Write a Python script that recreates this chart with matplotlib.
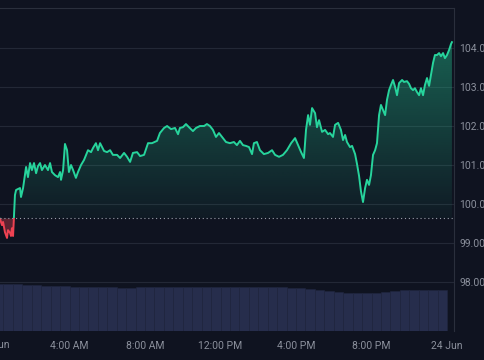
import numpy as np
from matplotlib import pyplot as plt
from matplotlib.patches import Rectangle
from matplotlib.path import Path

# hours since 23 Jun 00:00
hours = [0.32, 0.42, 0.48, 0.58, 0.69, 0.74, 0.85, 0.90, 0.95, 1.01, 1.11, 1.17, 1.38, 1.43, 1.54,
         1.70, 1.80, 1.91, 2.01, 2.12, 2.23, 2.33, 2.44, 2.54, 2.70, 2.86, 2.97, 3.07, 3.23, 3.39,
         3.50, 3.55, 3.66, 3.76, 3.87, 3.97, 4.08, 4.19, 4.34, 4.45, 4.61, 4.77, 4.98, 5.14, 5.25,
         5.40, 5.51, 5.62, 5.83, 5.99, 6.15, 6.30, 6.52, 6.68, 6.89, 7.05, 7.21, 7.36, 7.58, 7.74,
         7.95, 8.16, 8.37, 8.64, 8.79, 9.01, 9.17, 9.38, 9.59, 9.75, 9.85, 10.01, 10.17, 10.33, 10.54,
         10.70, 10.91, 11.13, 11.28, 11.44, 11.60, 11.76, 11.92, 12.08, 12.29, 12.50, 12.71, 12.87,
         13.03, 13.19, 13.35, 13.51, 13.67, 13.77, 13.93, 14.09, 14.30, 14.52, 14.73, 14.89, 15.10,
         15.31, 15.52, 15.74, 15.95, 16.11, 16.27, 16.42, 16.53, 16.64, 16.74, 16.85, 17.01, 17.11,
         17.22, 17.38, 17.54, 17.70, 17.80, 17.96, 18.07, 18.23, 18.38, 18.49, 18.60, 18.70, 18.86,
         18.97, 19.13, 19.23, 19.34, 19.44, 19.55, 19.66, 19.76, 19.87, 19.97, 20.08, 20.19, 20.29,
         20.40, 20.50, 20.61, 20.72, 20.82, 20.93, 21.03, 21.14, 21.25, 21.35, 21.46, 21.62, 21.72,
         21.88, 21.99, 22.09, 22.20, 22.30, 22.41, 22.52, 22.62, 22.73, 22.83, 22.94, 23.05, 23.15,
         23.26, 23.36, 23.47, 23.58, 23.68, 23.79, 23.89, 24.00, 24.11, 24.21, 24.26]
prices = [99.62, 99.46, 99.54, 99.28, 99.13, 99.33, 99.26, 99.18, 99.38, 99.18, 100.23, 100.36, 100.41, 100.18, 100.41,
          100.95, 100.69, 101.05, 100.87, 101.05, 100.79, 100.97, 101.05, 100.87, 101.00, 100.87, 101.05, 100.82, 100.74, 100.69,
          100.82, 100.62, 100.87, 101.54, 101.38, 100.82, 101.00, 100.87, 100.67, 100.82, 101.00, 101.13, 101.38, 101.33, 101.44,
          101.56, 101.38, 101.56, 101.36, 101.33, 101.38, 101.26, 101.26, 101.18, 101.31, 101.21, 101.08, 101.31, 101.33, 101.23,
          101.26, 101.56, 101.56, 101.62, 101.82, 101.95, 102.00, 101.92, 101.95, 101.79, 101.95, 101.97, 102.05, 101.97, 101.87,
          101.95, 102.00, 102.00, 102.05, 102.00, 101.90, 101.72, 101.82, 101.72, 101.59, 101.56, 101.59, 101.51,
          101.62, 101.51, 101.49, 101.46, 101.28, 101.56, 101.59, 101.38, 101.28, 101.31, 101.38, 101.26, 101.21,
          101.26, 101.38, 101.56, 101.69, 101.51, 101.33, 101.18, 101.90, 102.28, 102.03, 102.46, 102.33, 101.97,
          102.15, 101.85, 101.90, 101.79, 101.82, 101.72, 102.03, 102.08, 101.90, 101.64, 101.77, 101.59, 101.46,
          101.49, 101.28, 101.03, 100.72, 100.33, 100.05, 100.41, 100.62, 100.49, 100.74, 101.26, 101.38, 101.56,
          102.28, 102.54, 102.41, 102.28, 102.67, 102.92, 103.05, 103.18, 103.00, 102.79, 103.10, 103.18, 103.13,
          103.15, 103.08, 102.97, 102.92, 102.97, 102.87, 102.79, 102.97, 102.79, 103.05, 103.23, 103.03, 103.31,
          103.62, 103.82, 103.82, 103.87, 103.79, 103.87, 103.74, 103.82, 103.95, 104.10, 104.15]
baseline = 99.64

# volume, one bar per half hour (bar ends at the given hour)
vol_hours = [0.5 * i for i in range(1, 49)]
volume = [1455, 1455, 1455, 1424, 1424, 1393, 1393, 1393, 1362, 1362, 1362, 1362, 1362, 1331, 1331, 1362,
          1362, 1362, 1362, 1362, 1362, 1362, 1362, 1362, 1362, 1362, 1362, 1362, 1362, 1362, 1362, 1331,
          1331, 1300, 1269, 1238, 1207, 1176, 1176, 1176, 1176, 1207, 1238, 1269, 1269, 1269, 1269, 1269]

tick_pos = [4, 8, 12, 16, 20, 24]
tick_labels = ["4:00 AM", "8:00 AM", "12:00 PM", "4:00 PM", "8:00 PM", "24 Jun"]
price_ticks = [98, 99, 100, 101, 102, 103, 104]

BG = "#0f1320"
GREEN = "#27d49c"
RED = "#ee4252"
TXT = "#8b909c"
plt.rcParams["font.family"] = ["Roboto", "DejaVu Sans"]

h = np.array(hours)
p = np.array(prices)
xmin, xmax = 0.318, 24.37
ymin, ymax = 96.744, 105.026

fig = plt.figure(figsize=(4.85, 3.6), dpi=100, facecolor=BG)
ax = fig.add_axes([0, 1 - 331 / 360, 454 / 485, 323 / 360])
ax.set_facecolor(BG)
ax.set_xlim(xmin, xmax)
ax.set_ylim(ymin, ymax)

# volume on its own scale
ax2 = ax.twinx()
ax2.set_ylim(0, 10000)
ax2.bar(np.array(vol_hours) - 0.5, volume, width=0.5, align="edge", color="#262d4c",
        edgecolor="#20263f", linewidth=0.4, zorder=1)
ax2.set_yticks([])
for s in ax2.spines.values():
    s.set_visible(False)

# grid
for t in price_ticks:
    ax.axhline(t, color="#232836", lw=0.8, zorder=0)

# gradient fill above baseline
verts = [(h[0], baseline)] + list(zip(h, np.maximum(p, baseline))) + [(h[-1], baseline), (h[0], baseline)]
clip = Path(verts)
grad = np.linspace(0, 1, 256).reshape(-1, 1)
rgba = np.zeros((256, 1, 4))
rgba[..., 0] = 0x27 / 255
rgba[..., 1] = 0xd4 / 255
rgba[..., 2] = 0x9c / 255
rgba[..., 3] = 0.04 + 0.36 * grad
img = ax.imshow(rgba, extent=[h[0], h[-1], baseline, p.max()], origin="lower", aspect="auto", zorder=2)
img.set_clip_path(clip, transform=ax.transData)
ax.set_xlim(xmin, xmax)
ax.set_ylim(ymin, ymax)

# red fill below baseline
ax.fill_between(h, p, baseline, where=p < baseline, interpolate=True, color=RED, alpha=0.35, lw=0, zorder=2)

# price line, coloured by side of baseline
up, = ax.plot(h, p, color=GREEN, lw=1.4, zorder=3)
up.set_clip_path(Rectangle((xmin, baseline), xmax - xmin, ymax - baseline, transform=ax.transData))
dn, = ax.plot(h, p, color=RED, lw=1.4, zorder=3)
dn.set_clip_path(Rectangle((xmin, ymin), xmax - xmin, baseline - ymin, transform=ax.transData))

ax.axhline(baseline, color="#9aa0ab", lw=0.8, ls=(0, (1, 2.5)), zorder=4)

# axes styling
ax.yaxis.tick_right()
ax.set_yticks(price_ticks)
ax.set_yticklabels([f"{t:.2f}" for t in price_ticks])
ax.set_xticks(tick_pos)
ax.set_xticklabels(tick_labels)
ax.tick_params(axis="both", length=0, colors=TXT, labelsize=7.5)
ax.tick_params(axis="y", pad=4)
ax.tick_params(axis="x", pad=7)
ax.text(0, -0.043, "23 Jun", transform=ax.get_xaxis_transform(), ha="center", va="center",
        color=TXT, fontsize=7.5, clip_on=False)
for side in ["left", "bottom"]:
    ax.spines[side].set_visible(False)
for side in ["top", "right"]:
    ax.spines[side].set_color("#2a2f3c")
    ax.spines[side].set_linewidth(0.8)
ax.set_zorder(ax2.get_zorder() + 1)
ax.patch.set_visible(False)
fig.patch.set_facecolor(BG)

fig.savefig("out.png", dpi=100, facecolor=BG)
